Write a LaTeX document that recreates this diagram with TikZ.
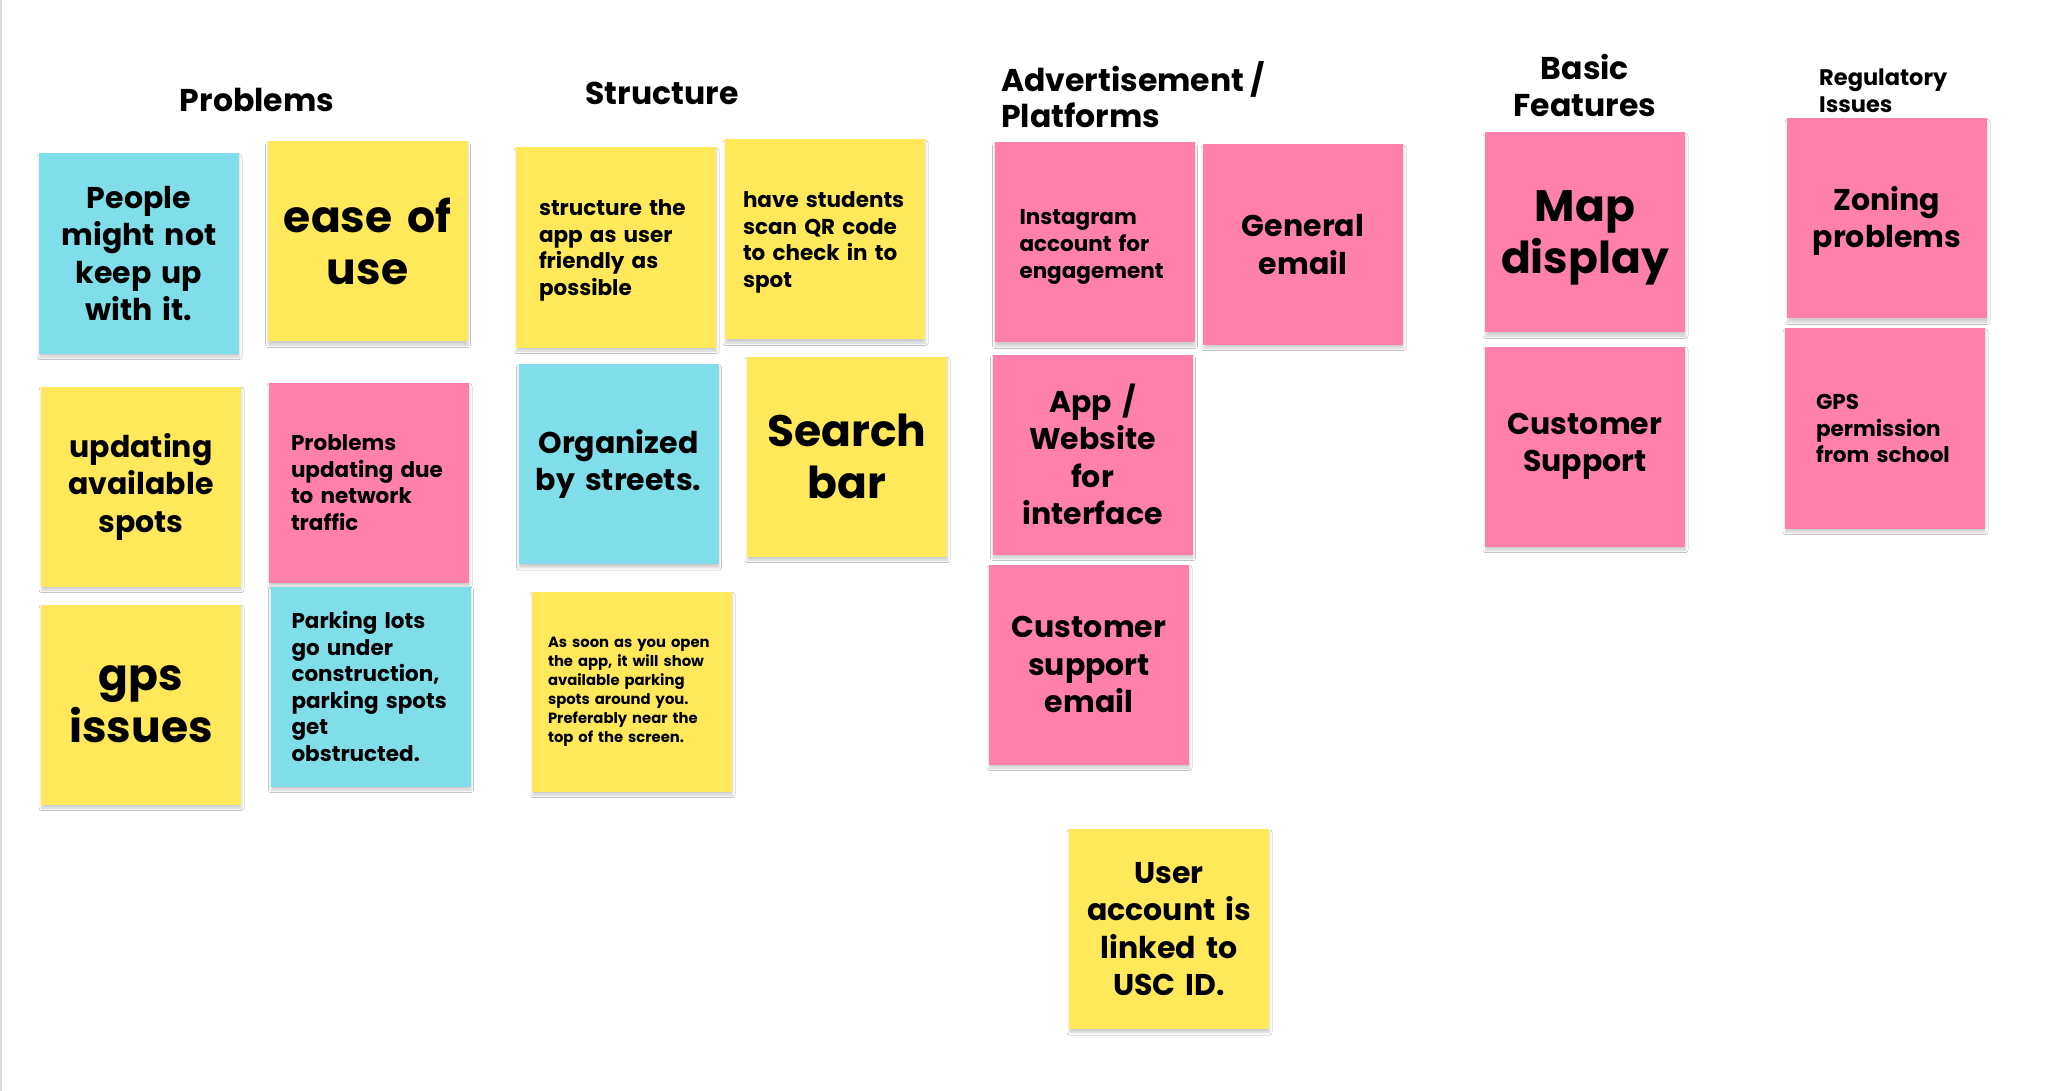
\documentclass[tikz,border=0pt]{standalone}
\usepackage{fontspec}
\setmainfont{Poppins}
\usetikzlibrary{shadows.blur}

\definecolor{stickyyellow}{HTML}{FFE95A}
\definecolor{stickypink}{HTML}{FF80AA}
\definecolor{stickyblue}{HTML}{80DEEA}
\definecolor{edgegray}{HTML}{D8DCE3}

% text sizes used on the notes
\newcommand\sizeXL{\fontsize{44}{52}\selectfont}
\newcommand\sizeL{\fontsize{30}{37.5}\selectfont}
\newcommand\sizeM{\fontsize{21.5}{26.6}\selectfont}
\newcommand\sizeS{\fontsize{14.8}{19}\selectfont}
% left-aligned note text with a given left margin
\newcommand\indented[2]{\leftskip=#1\relax #2\par}
% invisible strut that lowers a note's text block a little
\newcommand\lift[1]{\rule{0pt}{#1}}

\tikzset{
  sticky/.style={minimum width=200pt, minimum height=200pt, inner sep=0pt,
    text width=200pt, align=center, text=black,
    blur shadow={shadow xshift=0.5pt, shadow yshift=-3.5pt,
      shadow blur radius=2.5pt, shadow opacity=20}},
  yellownote/.style={sticky, fill=stickyyellow},
  pinknote/.style={sticky, fill=stickypink},
  bluenote/.style={sticky, fill=stickyblue},
  leftnote/.style={align=left},
  XL/.style={font=\bfseries\sizeXL},
  L/.style={font=\bfseries\sizeL},
  M/.style={font=\bfseries\sizeM},
  S/.style={font=\bfseries\sizeS},
  heading/.style={inner sep=0pt, font=\bfseries\fontsize{31.5}{36.5}\selectfont},
}

\begin{document}
\begin{tikzpicture}[x=1pt, y=-1pt]
\useasboundingbox[fill=white] (0,0) rectangle (2051,1091);
\draw[edgegray, line width=2pt] (1,0) -- (1,1091);

% column headings
\node[heading, anchor=base] (hProblems) at (257,112) {Problems};
\node[heading, anchor=base] (hStructure) at (662,105) {Structure};
\node[heading, anchor=north west, align=left] (hAdvert) at (1001,61) {Advertisement /\\Platforms};
\node[heading, anchor=north, align=center] (hBasic) at (1585,54.5) {Basic\\Features};
\node[heading, anchor=north west, align=left, font=\bfseries\fontsize{22.5}{27}\selectfont] (hReg) at (1819,68.5) {Regulatory\\Issues};

% Problems
\node[bluenote, L] (people) at (139,253.5) {People\\might not\\keep up\\with it.};
\node[yellownote, XL] (ease) at (367.5,241.5) {ease of\\use};
\node[yellownote, L] (updating) at (141,486.5) {updating\\available\\spots};
\node[pinknote, M, leftnote] (netupd) at (369,482.5) {\indented{22pt}{Problems\\updating due\\to network\\traffic}};
\node[yellownote, XL] (gps) at (141,704.5) {gps\\issues};
\node[bluenote, M, leftnote] (lots) at (370.5,686.5) {\indented{21pt}{Parking lots\\go under\\construction,\\parking spots\\get\\obstructed.}};

% Structure
\node[yellownote, M, leftnote] (friendly) at (616,247.5) {\indented{23pt}{\lift{22pt}structure the\\app as user\\friendly as\\possible}};
\node[yellownote, M, leftnote] (qrcode) at (825,239.5) {\indented{18pt}{\lift{22pt}have students\\scan QR code\\to check in to\\spot}};
\node[bluenote, L] (streets) at (618.5,464) {Organized\\by streets.};
\node[yellownote, XL] (search) at (847,456.5) {Search\\bar};
\node[yellownote, S, leftnote] (opening) at (632,691.5) {\indented{16pt}{As soon as you open\\the app, it will show\\available parking\\spots around you.\\Preferably near the\\top of the screen.}};

% Advertisement / Platforms
\node[pinknote, M, leftnote] (insta) at (1094.5,242.5) {\indented{25pt}{\lift{24pt}Instagram\\account for\\engagement}};
\node[pinknote, L] (genmail) at (1303,244.5) {General\\email};
\node[pinknote, L] (appweb) at (1092.5,454.5) {App /\\Website\\for\\interface};
\node[pinknote, L] (supmail) at (1089,664.5) {Customer\\support\\email};
\node[yellownote, L] (uscid) at (1169,929) {User\\account is\\linked to\\USC ID.};

% Basic Features
\node[pinknote, XL] (map) at (1585,232.5) {\lift{41pt}Map\\display};
\node[pinknote, L] (support) at (1585,446.5) {Customer\\Support};

% Regulatory Issues
\node[pinknote, L] (zoning) at (1887,218.5) {\lift{29pt}Zoning\\problems};
\node[pinknote, M, leftnote] (gpsperm) at (1885,428.5) {\indented{31pt}{GPS\\permission\\from school}};
\end{tikzpicture}
\end{document}
